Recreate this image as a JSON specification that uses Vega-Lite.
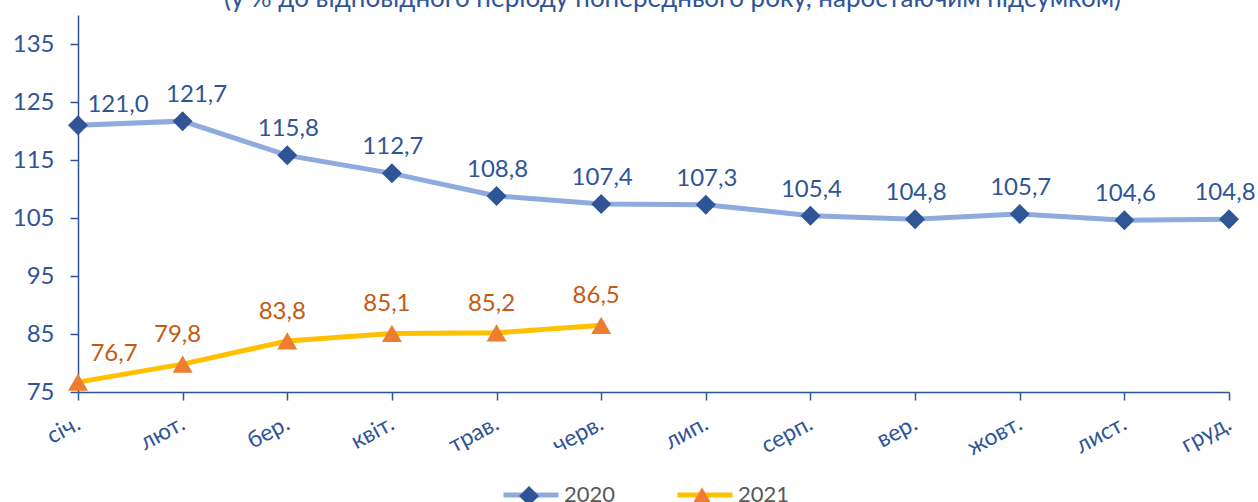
{
  "$schema": "https://vega.github.io/schema/vega-lite/v6.json",
  "width": 1151,
  "height": 377,
  "autosize": {"type": "none"},
  "padding": {"left": 78, "top": 15, "right": 29, "bottom": 110},
  "background": "white",
  "config": {
    "locale": {"number": {"decimal": ",", "thousands": " ", "grouping": [3], "currency": ["", " грн"]}},
    "view": {"stroke": null},
    "font": "Lato"
  },
  "title": {
    "text": "(у % до відповідного періоду попереднього року, наростаючим підсумком)",
    "font": "Lato",
    "fontSize": 26,
    "fontWeight": "normal",
    "color": "#2F5597",
    "anchor": "middle",
    "frame": "group",
    "baseline": "alphabetic",
    "offset": -18,
    "dx": 19
  },
  "data": {
    "values": [
      {"month": "січ.", "year": "2020", "value": 121.0},
      {"month": "лют.", "year": "2020", "value": 121.7},
      {"month": "бер.", "year": "2020", "value": 115.8},
      {"month": "квіт.", "year": "2020", "value": 112.7},
      {"month": "трав.", "year": "2020", "value": 108.8},
      {"month": "черв.", "year": "2020", "value": 107.4},
      {"month": "лип.", "year": "2020", "value": 107.3},
      {"month": "серп.", "year": "2020", "value": 105.4},
      {"month": "вер.", "year": "2020", "value": 104.8},
      {"month": "жовт.", "year": "2020", "value": 105.7},
      {"month": "лист.", "year": "2020", "value": 104.6},
      {"month": "груд.", "year": "2020", "value": 104.8},
      {"month": "січ.", "year": "2021", "value": 76.7},
      {"month": "лют.", "year": "2021", "value": 79.8},
      {"month": "бер.", "year": "2021", "value": 83.8},
      {"month": "квіт.", "year": "2021", "value": 85.1},
      {"month": "трав.", "year": "2021", "value": 85.2},
      {"month": "черв.", "year": "2021", "value": 86.5}
    ]
  },
  "encoding": {
    "x": {
      "field": "month",
      "type": "ordinal",
      "sort": ["січ.", "лют.", "бер.", "квіт.", "трав.", "черв.", "лип.", "серп.", "вер.", "жовт.", "лист.", "груд."],
      "scale": {"type": "point", "padding": 0},
      "axis": {
        "title": null,
        "grid": false,
        "domainColor": "#2F5597",
        "domainWidth": 1.5,
        "tickColor": "#2F5597",
        "tickWidth": 1.5,
        "tickSize": 8,
        "labelAngle": -28,
        "labelAlign": "right",
        "labelBaseline": "top",
        "labelPadding": 12,
        "labelOffset": -5,
        "labelFont": "Lato",
        "labelFontSize": 23,
        "labelColor": "#2F5597",
        "labelOverlap": false,
        "labelFlush": false,
        "labelBound": false
      }
    },
    "y": {
      "field": "value",
      "type": "quantitative",
      "scale": {"domain": [75, 140], "nice": false, "zero": false},
      "axis": {
        "title": null,
        "grid": false,
        "values": [75, 85, 95, 105, 115, 125, 135],
        "format": "d",
        "domainColor": "#2F5597",
        "domainWidth": 1.5,
        "tickColor": "#2F5597",
        "tickWidth": 1.5,
        "tickSize": 8,
        "labelPadding": 16,
        "labelFont": "Lato",
        "labelFontSize": 24,
        "labelColor": "#2F5597",
        "labelFlush": false,
        "labelOverlap": false
      }
    }
  },
  "layer": [
    {
      "mark": {"type": "line", "strokeWidth": 5},
      "encoding": {
        "stroke": {
          "field": "year",
          "type": "nominal",
          "scale": {"domain": ["2020", "2021"], "range": ["#8FAADC", "#FFC000"]},
          "legend": {
            "orient": "none",
            "legendX": 423,
            "legendY": 450,
            "direction": "horizontal",
            "title": null,
            "padding": 0,
            "symbolType": "stroke",
            "symbolSize": 3025,
            "symbolStrokeWidth": 5,
            "labelFont": "Lato",
            "labelFontSize": 22,
            "labelColor": "#595959",
            "labelOffset": 3,
            "columnPadding": 51
          }
        }
      }
    },
    {
      "mark": {"type": "point", "filled": true, "size": 400, "opacity": 1, "strokeWidth": 0},
      "encoding": {
        "fill": {
          "field": "year",
          "type": "nominal",
          "scale": {"range": ["#2F5597", "#ED7D31"]},
          "legend": {
            "orient": "none",
            "legendX": 423,
            "legendY": 470,
            "direction": "horizontal",
            "title": null,
            "padding": 0,
            "symbolSize": 400,
            "symbolStrokeWidth": 0,
            "symbolOffset": 17,
            "labelFont": "Lato",
            "labelFontSize": 22,
            "labelOpacity": 0,
            "labelOffset": 3,
            "columnPadding": 79
          }
        },
        "shape": {
          "field": "year",
          "type": "nominal",
          "scale": {"range": ["diamond", "triangle-up"]}
        }
      }
    },
    {
      "transform": [{"filter": "datum.year == '2020' && datum.month != 'січ.' && datum.month != 'лют.' && datum.month != 'груд.'"}],
      "mark": {"type": "text", "font": "Lato", "fontSize": 24, "color": "#2F5597", "baseline": "alphabetic", "dx": 1, "dy": -19},
      "encoding": {"text": {"field": "value", "type": "quantitative", "format": ".1f"}}
    },
    {
      "transform": [{"filter": "datum.year == '2020' && datum.month == 'груд.'"}],
      "mark": {"type": "text", "font": "Lato", "fontSize": 24, "color": "#2F5597", "baseline": "alphabetic", "dx": -4, "dy": -19},
      "encoding": {"text": {"field": "value", "type": "quantitative", "format": ".1f"}}
    },
    {
      "transform": [{"filter": "datum.year == '2020' && datum.month == 'січ.'"}],
      "mark": {"type": "text", "font": "Lato", "fontSize": 24, "color": "#2F5597", "baseline": "alphabetic", "dx": 40, "dy": -13},
      "encoding": {"text": {"field": "value", "type": "quantitative", "format": ".1f"}}
    },
    {
      "transform": [{"filter": "datum.year == '2020' && datum.month == 'лют.'"}],
      "mark": {"type": "text", "font": "Lato", "fontSize": 24, "color": "#2F5597", "baseline": "alphabetic", "dx": 14, "dy": -19},
      "encoding": {"text": {"field": "value", "type": "quantitative", "format": ".1f"}}
    },
    {
      "transform": [{"filter": "datum.year == '2021' && datum.month != 'січ.'"}],
      "mark": {"type": "text", "font": "Lato", "fontSize": 24, "color": "#C55A11", "baseline": "alphabetic", "dx": -5, "dy": -22},
      "encoding": {"text": {"field": "value", "type": "quantitative", "format": ".1f"}}
    },
    {
      "transform": [{"filter": "datum.year == '2021' && datum.month == 'січ.'"}],
      "mark": {"type": "text", "font": "Lato", "fontSize": 24, "color": "#C55A11", "baseline": "alphabetic", "dx": 36, "dy": -21},
      "encoding": {"text": {"field": "value", "type": "quantitative", "format": ".1f"}}
    }
  ]
}
